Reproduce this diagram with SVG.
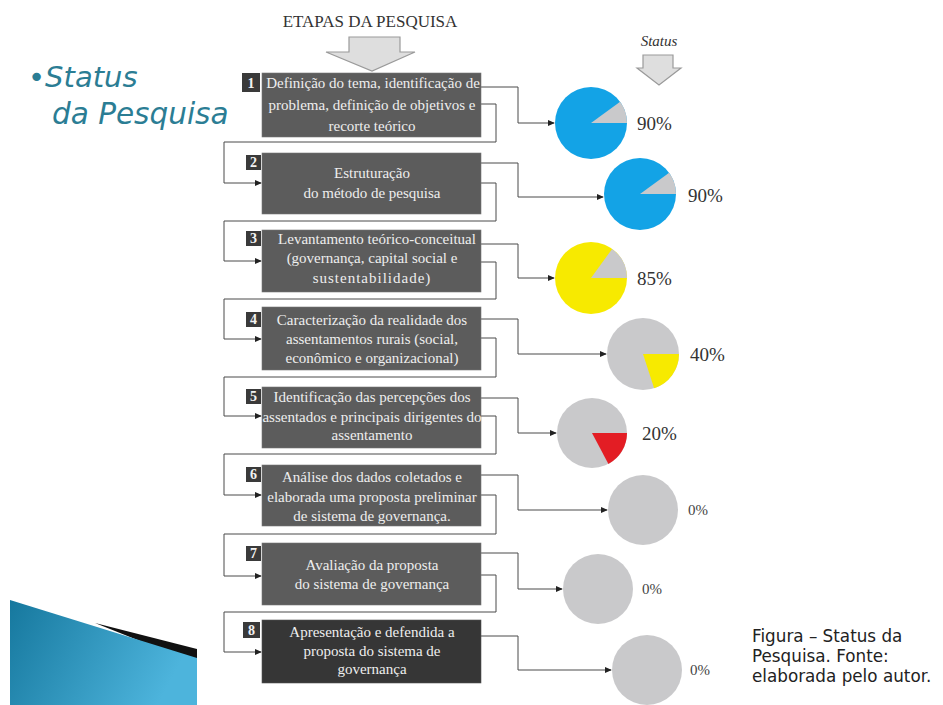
<svg xmlns="http://www.w3.org/2000/svg" width="943" height="705" viewBox="0 0 943 705">
<defs>
<style>
.box{fill:#5c5c5c;stroke:#777;stroke-width:0.6}
.box8{fill:#363636;stroke:#555;stroke-width:0.6}
.num{fill:#3a3a3a}
.numt{font-family:"Liberation Serif",serif;font-size:14px;font-weight:bold;fill:#f2f2f2;text-anchor:middle}
.bt{font-family:"Liberation Serif",serif;font-size:15px;fill:#eeeeee;text-anchor:middle}
.conn{fill:none;stroke:#4a4a4a;stroke-width:1}
.pct{font-family:"Liberation Serif",serif;font-size:19px;fill:#333}
.pct0{font-family:"Liberation Serif",serif;font-size:15px;fill:#444}
.gray{fill:#c9c9cb}
.blue{fill:#13a3e6}
.yel{fill:#f7ea00}
.red{fill:#e31d24}
.bigarrow{fill:#dedede;stroke:#9a9a9a;stroke-width:1.2}
.cap{font-family:"DejaVu Sans",sans-serif;font-size:16.8px;fill:#222}
</style>
<marker id="ah" viewBox="0 0 8 8" refX="7" refY="4" markerWidth="7" markerHeight="7" markerUnits="userSpaceOnUse" orient="auto">
<path d="M0,0.5 L8,4 L0,7.5 Z" fill="#222"/>
</marker>
<linearGradient id="bl" x1="0" y1="0" x2="1" y2="0.3">
<stop offset="0" stop-color="#16789e"/>
<stop offset="1" stop-color="#4db4dc"/>
</linearGradient>
</defs>
<rect width="943" height="705" fill="#ffffff"/>

<g id="title">
<text x="28" y="87" font-family="DejaVu Sans,sans-serif" font-style="italic" font-size="29" fill="#2b7d94">•Status</text>
<text x="52" y="124" font-family="DejaVu Sans,sans-serif" font-style="italic" font-size="29.5" fill="#2b7d94">da Pesquisa</text>
</g>

<g id="header-etapas">
<text x="370" y="27" font-family="Liberation Serif,serif" font-size="17" fill="#333" text-anchor="middle">ETAPAS DA PESQUISA</text>
<path class="bigarrow" d="M349,37 H400 V52 H415 L372,71 L326,52 H349 Z"/>
</g>

<g id="header-status">
<text x="659" y="46" font-family="Liberation Serif,serif" font-style="italic" font-size="15" fill="#333" text-anchor="middle">Status</text>
<path class="bigarrow" d="M643,55 H673 V68 H681 L659,85 L637,68 H643 Z"/>
</g>

<g id="connectors">
<path class="conn" d="M481,87 H518 V123 H554" marker-end="url(#ah)"/>
<path class="conn" d="M481,163 H518 V197 H603" marker-end="url(#ah)"/>
<path class="conn" d="M481,244 H518 V278 H554" marker-end="url(#ah)"/>
<path class="conn" d="M481,319 H518 V354 H606" marker-end="url(#ah)"/>
<path class="conn" d="M481,398 H518 V433 H556" marker-end="url(#ah)"/>
<path class="conn" d="M481,475 H518 V510 H607" marker-end="url(#ah)"/>
<path class="conn" d="M481,553 H518 V589 H562" marker-end="url(#ah)"/>
<path class="conn" d="M481,636 H518 V670 H611" marker-end="url(#ah)"/>
<path class="conn" d="M481,104 H496 V142 H224 V183 H261" marker-end="url(#ah)"/>
<path class="conn" d="M481,183 H496 V221 H224 V261 H261" marker-end="url(#ah)"/>
<path class="conn" d="M481,262 H496 V299 H224 V339 H261" marker-end="url(#ah)"/>
<path class="conn" d="M481,338 H496 V377 H224 V416 H261" marker-end="url(#ah)"/>
<path class="conn" d="M481,416 H496 V454 H224 V495 H261" marker-end="url(#ah)"/>
<path class="conn" d="M481,495 H496 V534 H224 V576 H261" marker-end="url(#ah)"/>
<path class="conn" d="M481,575 H496 V612 H224 V652 H261" marker-end="url(#ah)"/>
</g>

<g id="step1">
<rect class="box" x="262" y="73" width="219" height="64"/>
<rect class="num" x="242" y="73" width="18" height="19"/>
<text class="numt" x="251" y="88">1</text>
<text class="bt" x="373" y="88">Definição do tema, identificação de</text>
<text class="bt" x="372" y="110">problema, definição de objetivos e</text>
<text class="bt" x="372" y="131">recorte teórico</text>
</g>

<g id="step2">
<rect class="box" x="262" y="153" width="219" height="61"/>
<rect class="num" x="246" y="155" width="15" height="15"/>
<text class="numt" x="253.5" y="167">2</text>
<text class="bt" x="372" y="178" font-size="15.8">Estruturação</text>
<text class="bt" x="372" y="198" font-size="15.8">do método de pesquisa</text>
</g>

<g id="step3">
<rect class="box" x="262" y="230" width="219" height="62"/>
<rect class="num" x="246" y="231" width="15" height="15"/>
<text class="numt" x="253.5" y="243">3</text>
<text class="bt" x="377" y="244" font-size="16.5">Levantamento teórico-conceitual</text>
<text class="bt" x="372" y="263" font-size="16.5">(governança, capital social e</text>
<text class="bt" x="372" y="283" font-size="16.5" letter-spacing="1">sustentabilidade)</text>
</g>

<g id="step4">
<rect class="box" x="262" y="307" width="219" height="63"/>
<rect class="num" x="246" y="312" width="15" height="15"/>
<text class="numt" x="253.5" y="324">4</text>
<text class="bt" x="372" y="325" font-size="15.7">Caracterização da realidade dos</text>
<text class="bt" x="372" y="344" font-size="15.7">assentamentos rurais (social,</text>
<text class="bt" x="372" y="363" font-size="15.7">econômico e organizacional)</text>
</g>

<g id="step5">
<rect class="box" x="262" y="387" width="219" height="61"/>
<rect class="num" x="246" y="389" width="15" height="15"/>
<text class="numt" x="253.5" y="401">5</text>
<text class="bt" x="372" y="402" font-size="13.2">Identificação das percepções dos</text>
<text class="bt" x="372" y="422" font-size="13.2">assentados e principais dirigentes do</text>
<text class="bt" x="372" y="440" font-size="13.2">assentamento</text>
</g>

<g id="step6">
<rect class="box" x="262" y="465" width="219" height="61"/>
<rect class="num" x="246" y="467" width="15" height="15"/>
<text class="numt" x="253.5" y="479">6</text>
<text class="bt" x="372" y="482" font-size="13.7">Análise dos dados coletados e</text>
<text class="bt" x="372" y="502" font-size="13.7">elaborada uma proposta preliminar</text>
<text class="bt" x="372" y="521" font-size="13.7">de sistema de governança.</text>
</g>

<g id="step7">
<rect class="box" x="262" y="543" width="219" height="62"/>
<rect class="num" x="246" y="546" width="15" height="15"/>
<text class="numt" x="253.5" y="558">7</text>
<text class="bt" x="372" y="570" font-size="16">Avaliação da proposta</text>
<text class="bt" x="372" y="589" font-size="16">do sistema de governança</text>
</g>

<g id="step8">
<rect class="box8" x="262" y="620" width="219" height="63"/>
<rect class="num" x="243" y="622" width="17" height="16" fill="#2e2e2e"/>
<text class="numt" x="251.5" y="635">8</text>
<text class="bt" x="372" y="637" font-size="16.3">Apresentação e defendida a</text>
<text class="bt" x="372" y="656" font-size="16.3">proposta do sistema de</text>
<text class="bt" x="372" y="674" font-size="16.3">governança</text>
</g>

<g id="pie1">
<circle class="blue" cx="591" cy="123" r="36"/>
<path class="gray" d="M591,123 L627,123 A36,36 0 0 0 620.12,101.84 Z"/>
<text class="pct" x="637" y="130">90%</text>
</g>
<g id="pie2">
<circle class="blue" cx="640" cy="194" r="36"/>
<path class="gray" d="M640,194 L676,194 A36,36 0 0 0 669.12,172.84 Z"/>
<text class="pct" x="688" y="202">90%</text>
</g>
<g id="pie3">
<circle class="yel" cx="591" cy="278" r="36"/>
<path class="gray" d="M591,278 L627,278 A36,36 0 0 0 612.16,248.88 Z"/>
<text class="pct" x="637" y="285">85%</text>
</g>
<g id="pie4">
<circle class="gray" cx="643" cy="354" r="36"/>
<path class="yel" d="M643,354 L679,354 A36,36 0 0 1 654.12,388.24 Z"/>
<text class="pct" x="690" y="361">40%</text>
</g>
<g id="pie5">
<circle class="gray" cx="592" cy="433" r="35"/>
<path class="red" d="M592,433 L627,433 A35,35 0 0 1 608.43,463.9 Z"/>
<text class="pct" x="642" y="440">20%</text>
</g>
<g id="pie6">
<circle class="gray" cx="643" cy="510" r="35"/>
<text class="pct0" x="688" y="515">0%</text>
</g>
<g id="pie7">
<circle class="gray" cx="598" cy="589" r="35"/>
<text class="pct0" x="642" y="594">0%</text>
</g>
<g id="pie8">
<circle class="gray" cx="647" cy="670" r="35"/>
<text class="pct0" x="690" y="675">0%</text>
</g>

<g id="decoration">
<polygon points="95,623 197,649 197,659 150,645" fill="#111"/>
<polygon points="10,600 197,658 197,705 10,705" fill="url(#bl)"/>
</g>

<g id="caption">
<text class="cap" x="752" y="642">Figura – Status da</text>
<text class="cap" x="752" y="662">Pesquisa. Fonte:</text>
<text class="cap" x="752" y="682">elaborada pelo autor.</text>
</g>
</svg>
